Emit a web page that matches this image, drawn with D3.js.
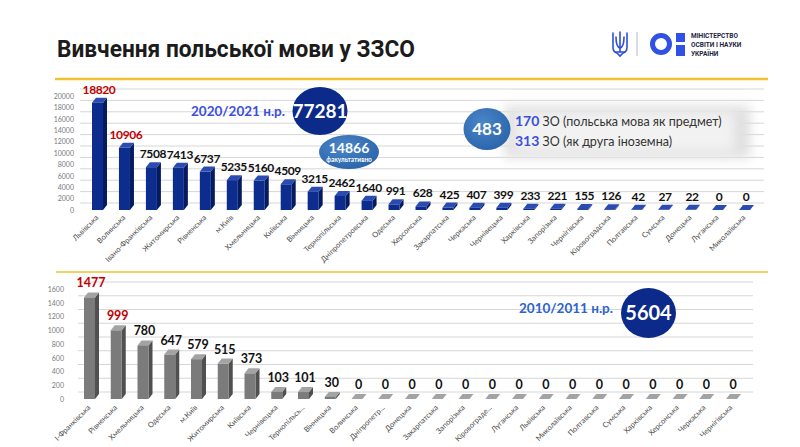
<!DOCTYPE html>
<html><head><meta charset="utf-8">
<script src="https://cdn.jsdelivr.net/npm/d3@7"></script>
<style>body{margin:0;background:#fff}svg{display:block}</style>
</head><body>
<script>
const titleText = "Вивчення польської мови у ЗЗСО";
const topCategories = ["Львівська","Волинська","Івано-Франківська","Житомирська","Рівненська","м.Київ","Хмельницька","Київська","Вінницька","Тернопільська","Дніпропетровська","Одеська","Херсонська","Закарпатська","Черкаська","Чернівецька","Харківська","Запорізька","Чернігівська","Кіровоградська","Полтавська","Сумська","Донецька","Луганська","Миколаївська"];
const topValues = [18820,10906,7508,7413,6737,5235,5160,4509,3215,2462,1640,991,628,425,407,399,233,221,155,126,42,27,22,0,0];
const topTicks = [0,2000,4000,6000,8000,10000,12000,14000,16000,18000,20000];
const bottomCategories = ["І-Франківська","Рівненська","Хмельницька","Одеська","м.Київ","Житомирська","Київська","Чернівецька","Тернопільсь...","Вінницька","Волинська","Дніпропетр...","Донецька","Закарпатська","Запорізька","Кіровограде...","Луганська","Львівська","Миколаївська","Полтавська","Сумська","Харківська","Херсонська","Черкаська","Чернігівська"];
const bottomValues = [1477,999,780,647,579,515,373,103,101,30,0,0,0,0,0,0,0,0,0,0,0,0,0,0,0];
const bottomTicks = [0,200,400,600,800,1000,1200,1400,1600];

const W = 800, H = 447;
const FONT = "Lato, 'Open Sans', sans-serif";
const svg = d3.select("body").append("svg").attr("width", W).attr("height", H);
const defs = svg.append("defs");
defs.append("filter").attr("id","blur").attr("x","-20%").attr("y","-40%").attr("width","140%").attr("height","180%")
  .append("feGaussianBlur").attr("stdDeviation", 6);
const rg = defs.append("radialGradient").attr("id","lightBlue").attr("cx","40%").attr("cy","35%").attr("r","70%");
rg.append("stop").attr("offset","0%").attr("stop-color","#4a86c8");
rg.append("stop").attr("offset","100%").attr("stop-color","#2a64aa");

svg.append("text").attr("x", 57).attr("y", 57).text(titleText)
  .attr("font-family", "Roboto, 'Open Sans', sans-serif").attr("font-weight", 700)
  .attr("font-size", 23).attr("fill", "#1b1b1b")
  .attr("textLength", 358).attr("lengthAdjust", "spacingAndGlyphs");

const logo = svg.append("g").attr("fill", "none").attr("stroke", "#2f4fd8").attr("stroke-width", 1.6).attr("stroke-linecap", "round");
logo.append("path").attr("d", "M613,33 L613,47 Q613,52 617,53 L620,56 L623,53 Q627,52 627,47 L627,33");
logo.append("path").attr("d", "M620,32 L620,52");
logo.append("path").attr("d", "M616,37 Q616,47 620,48 Q624,47 624,37");
logo.append("path").attr("d", "M615.5,52 L624.5,52");
svg.append("line").attr("x1", 637).attr("x2", 637).attr("y1", 32).attr("y2", 56).attr("stroke", "#b8b8c8").attr("stroke-width", 1);
svg.append("circle").attr("cx", 661).attr("cy", 44).attr("r", 8.5).attr("fill", "none").attr("stroke", "#3050e6").attr("stroke-width", 5);
svg.append("rect").attr("x", 676).attr("y", 33).attr("width", 9).attr("height", 9).attr("fill", "#3050e6");
svg.append("rect").attr("x", 676).attr("y", 45).attr("width", 9).attr("height", 11).attr("fill", "#3050e6");
["МІНІСТЕРСТВО","ОСВІТИ І НАУКИ","УКРАЇНИ"].forEach((t, i) => {
  svg.append("text").attr("x", 691).attr("y", 38 + i * 9).text(t)
    .attr("font-family", "Roboto, sans-serif").attr("font-weight", 700).attr("font-size", 6.5).attr("fill", "#1e2340");
});

svg.append("line").attr("x1", 55).attr("x2", 768).attr("y1", 79).attr("y2", 79).attr("stroke", "#f2c12e").attr("stroke-width", 2.5);
svg.append("line").attr("x1", 56).attr("x2", 768).attr("y1", 272).attr("y2", 272).attr("stroke", "#f2c12e").attr("stroke-width", 1.5);

function drawChart(cfg) {
  const g = svg.append("g");
  const { cats, vals, ticks, y, x, front, side, topc, labelY, tickX, gridX1, gridX2, catY } = cfg;
  const DX = 4, DY = 5, BW = 11, GS = 7;
  g.selectAll(".grid").data(ticks).join("line")
    .attr("x1", gridX1).attr("x2", gridX2)
    .attr("y1", d => y(d) - GS).attr("y2", d => y(d) - GS)
    .attr("stroke", "#d6d6d6").attr("stroke-width", 1);
  const axis = d3.axisLeft(y).tickValues(ticks).tickSize(0).tickPadding(0).tickFormat(d3.format("d"));
  const ag = g.append("g").attr("transform", `translate(${tickX},0)`).call(axis);
  ag.select(".domain").remove();
  ag.selectAll("text").attr("font-family", FONT).attr("font-size", 7).attr("fill", "#7a7a7a").attr("dy", "0.32em");
  const bars = g.selectAll(".bar").data(vals).join("g");
  bars.each(function (v, i) {
    const b = d3.select(this);
    const x0 = x(cats[i]) - 6, y0 = y(0), y1 = y(v);
    b.append("path").attr("fill", side)
      .attr("d", `M${x0 + BW},${y1} L${x0 + BW + DX},${y1 - DY} L${x0 + BW + DX},${y0 - DY} L${x0 + BW},${y0} Z`);
    b.append("path").attr("fill", topc)
      .attr("d", `M${x0},${y1} L${x0 + DX},${y1 - DY} L${x0 + BW + DX},${y1 - DY} L${x0 + BW},${y1} Z`);
    if (y0 - y1 > 0) b.append("rect").attr("x", x0).attr("y", y1).attr("width", BW).attr("height", y0 - y1).attr("fill", front);
  });
  g.selectAll(".val").data(vals).join("text")
    .attr("x", (d, i) => x(cats[i]) + 1).attr("y", (d) => y(d) - labelY)
    .attr("text-anchor", "middle").text(d => d)
    .attr("font-family", FONT).attr("font-weight", 700).attr("font-size", cfg.valSize)
    .attr("letter-spacing", cfg.valSpacing)
    .attr("fill", (d, i) => i < 2 ? "#c00000" : "#111");
  g.selectAll(".cat").data(cats).join("text")
    .attr("transform", d => `translate(${x(d) + 1},${catY}) rotate(-45)`)
    .attr("text-anchor", "end").text(d => d)
    .attr("font-family", FONT).attr("font-size", 7.5).attr("fill", "#4a4a4a");
  return g;
}

const yTop = d3.scaleLinear().domain([0, 20000]).range([210, 96]);
const xTop = d3.scalePoint().domain(topCategories).range([98, 745]);
drawChart({ cats: topCategories, vals: topValues, ticks: topTicks, y: yTop, x: xTop, valSize: 12, valSpacing: -0.4,
  front: "#0c2c8e", side: "#061b5e", topc: "#2a4cb2", labelY: 9, tickX: 74, gridX1: 80, gridX2: 764, catY: 218 });

const yBot = d3.scaleLinear().domain([0, 1600]).range([399, 289]);
const xBot = d3.scalePoint().domain(bottomCategories).range([90, 732]);
drawChart({ cats: bottomCategories, vals: bottomValues, ticks: bottomTicks, y: yBot, x: xBot, valSize: 12.5, valSpacing: 0,
  front: "#7b7b7b", side: "#505050", topc: "#a3a3a3", labelY: 10, tickX: 64, gridX1: 78, gridX2: 753, catY: 408 });

svg.append("rect").attr("x", 505).attr("y", 106).attr("width", 245).attr("height", 52).attr("fill", "#dedede").attr("filter", "url(#blur)");
svg.append("rect").attr("x", 515).attr("y", 112).attr("width", 220).attr("height", 40).attr("fill", "#f2f2f2").attr("filter", "url(#blur)");
svg.append("text").attr("x", 238).attr("y", 116).attr("text-anchor", "middle").text("2020/2021 н.р.")
  .attr("font-family", FONT).attr("font-weight", 700).attr("font-size", 13.5).attr("fill", "#3a4fe0");
svg.append("ellipse").attr("cx", 320).attr("cy", 111).attr("rx", 27.5).attr("ry", 24).attr("fill", "#0b2a8a");
svg.append("text").attr("x", 320).attr("y", 118).attr("text-anchor", "middle").text("77281")
  .attr("font-family", FONT).attr("font-weight", 700).attr("font-size", 19).attr("fill", "#fff");
svg.append("ellipse").attr("cx", 349).attr("cy", 152).attr("rx", 30).attr("ry", 17).attr("fill", "url(#lightBlue)");
svg.append("text").attr("x", 349).attr("y", 153).attr("text-anchor", "middle").text("14866")
  .attr("font-family", FONT).attr("font-weight", 700).attr("font-size", 14).attr("fill", "#fff");
svg.append("text").attr("x", 349).attr("y", 162).attr("text-anchor", "middle").text("факультативно")
  .attr("font-family", FONT).attr("font-weight", 700).attr("font-size", 6.5).attr("fill", "#fff");
svg.append("ellipse").attr("cx", 487).attr("cy", 129).attr("rx", 23.5).attr("ry", 21).attr("fill", "url(#lightBlue)");
svg.append("text").attr("x", 487).attr("y", 135).attr("text-anchor", "middle").text("483")
  .attr("font-family", FONT).attr("font-weight", 700).attr("font-size", 17).attr("fill", "#fff");
const t1 = svg.append("text").attr("x", 515).attr("y", 126).attr("font-family", FONT).attr("font-size", 12.5).attr("fill", "#333");
t1.append("tspan").text("170").attr("font-weight", 700).attr("fill", "#3a4fe0").attr("font-size", 14);
t1.append("tspan").text(" ЗО (польська мова як предмет)");
const t2 = svg.append("text").attr("x", 515).attr("y", 146).attr("font-family", FONT).attr("font-size", 12.5).attr("fill", "#333");
t2.append("tspan").text("313").attr("font-weight", 700).attr("fill", "#3a4fe0").attr("font-size", 14);
t2.append("tspan").text(" ЗО  (як друга іноземна)");

svg.append("text").attr("x", 566).attr("y", 313).attr("text-anchor", "middle").text("2010/2011 н.р.")
  .attr("font-family", FONT).attr("font-weight", 700).attr("font-size", 13.5).attr("fill", "#2a64cc");
svg.append("ellipse").attr("cx", 648.5).attr("cy", 313).attr("rx", 27.5).attr("ry", 25).attr("fill", "#0b2a8a");
svg.append("text").attr("x", 648.5).attr("y", 320).attr("text-anchor", "middle").text("5604")
  .attr("font-family", FONT).attr("font-weight", 700).attr("font-size", 20).attr("fill", "#fff");
</script>
</body></html>
